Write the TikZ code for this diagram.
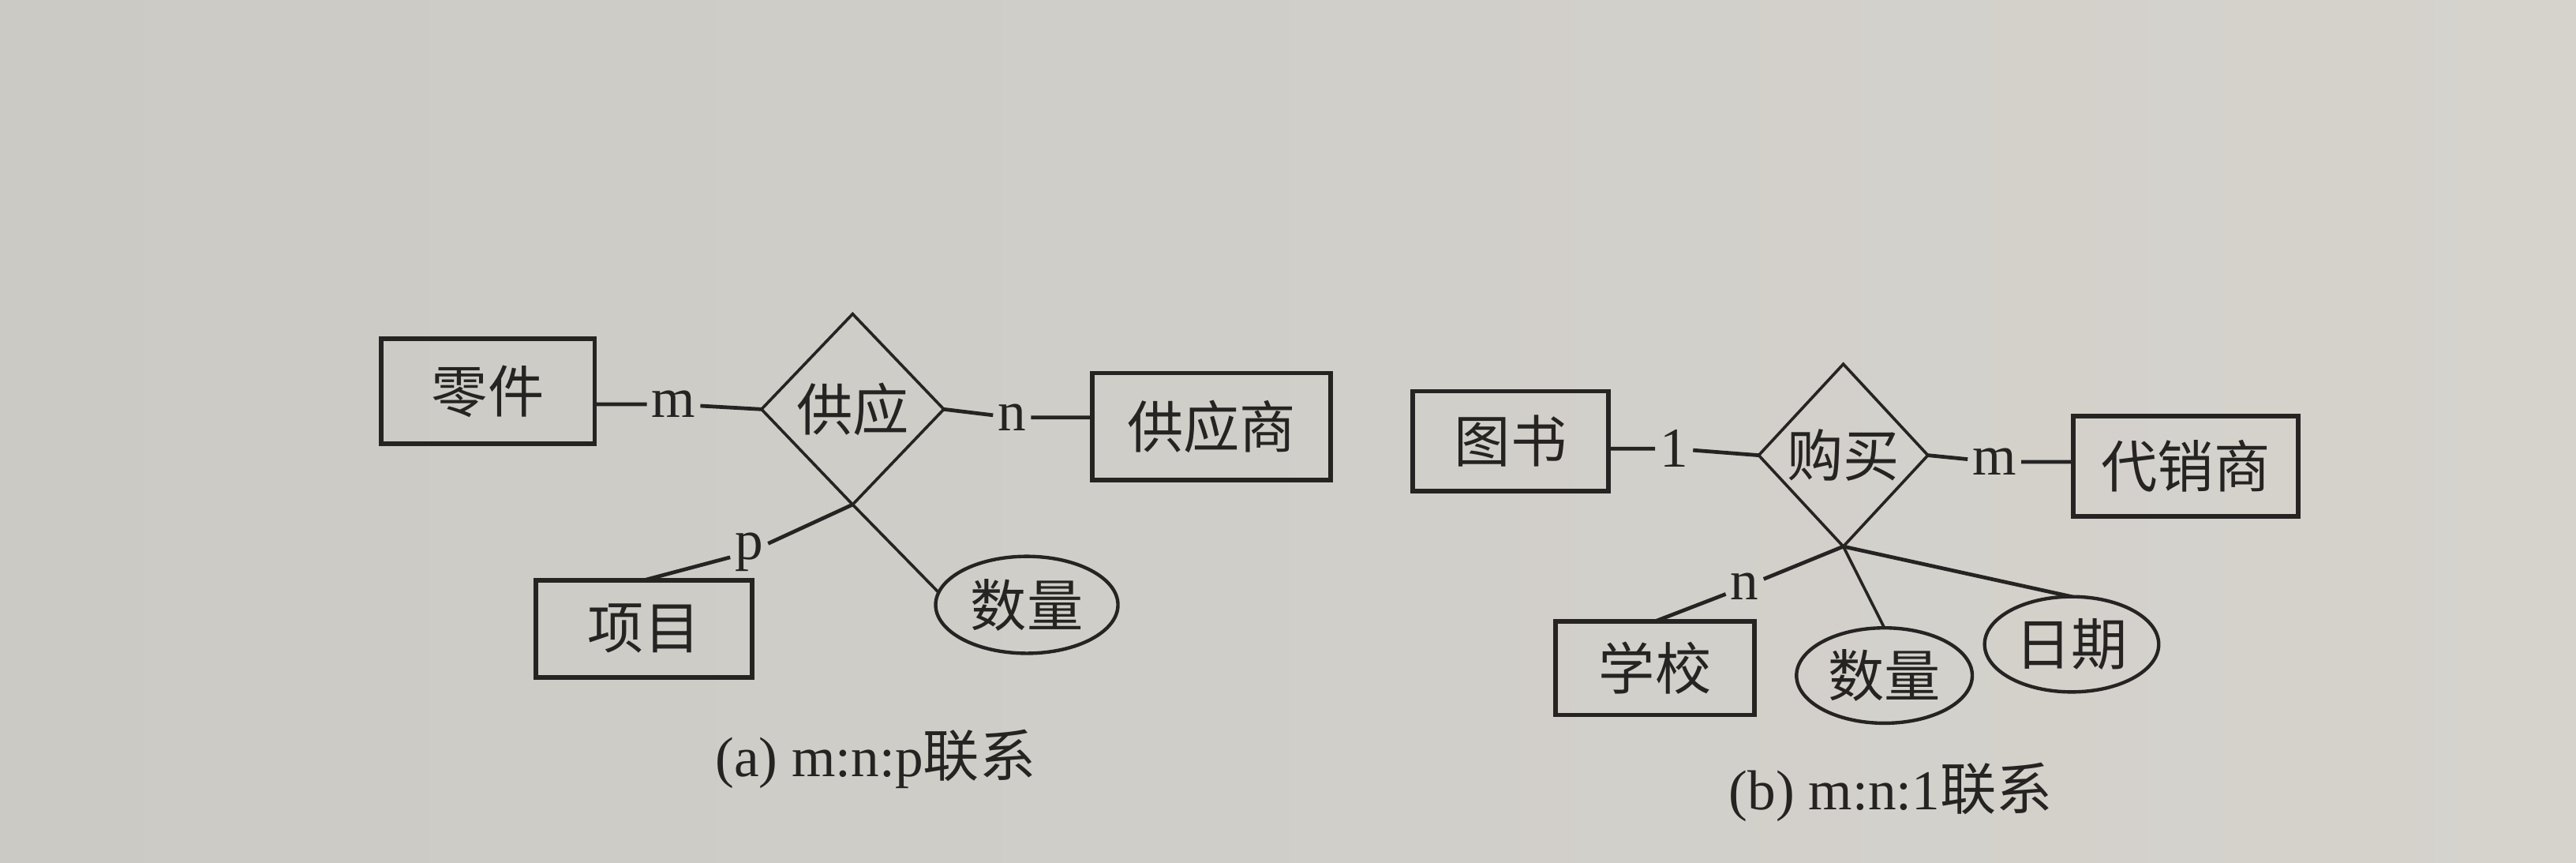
\documentclass[tikz,border=0pt]{standalone}
\usepackage{fontspec}
\setmainfont{Liberation Serif}
\newfontfamily\cjk{Noto Sans CJK SC}
\usetikzlibrary{shapes.geometric}

\definecolor{ink}{RGB}{38,36,34}
\definecolor{paperL}{RGB}{203,202,197}
\definecolor{paperM}{RGB}{225,223,218}
\definecolor{paperR}{RGB}{214,211,205}

\begin{document}
\begin{tikzpicture}[x=0.02cm, y=-0.02cm,
  every node/.style={font=\fontsize{19.5}{22}\selectfont, text=ink},
  entite/.style={draw=ink, line width=1.6pt, rectangle, inner sep=0pt, outer sep=0pt},
  relation/.style={draw=ink, line width=1pt, diamond, inner sep=0pt, outer sep=0pt},
  attribut/.style={draw=ink, line width=1.2pt, ellipse, inner sep=0pt, outer sep=0pt},
  card/.style={inner sep=1.5pt},
  lien/.style={draw=ink, line width=1.3pt},
  lienfin/.style={draw=ink, line width=1pt}]
%
% Page
\shade[left color=paperL, middle color=paperM, right color=paperR] (0,0) rectangle (1568,525);
%
% Figure (a)
\node[entite, minimum width=2.6cm, minimum height=1.28cm] (parts) at (297,238) {\cjk 零件};
\node[relation, minimum width=2.22cm, minimum height=2.32cm] (supply) at (519,249) {\cjk 供应};
\node[entite, minimum width=2.9cm, minimum height=1.3cm] (supplier) at (737.5,259.5) {\cjk 供应商};
\node[entite, minimum width=2.64cm, minimum height=1.18cm] (project) at (392,382.5) {\cjk 项目};
\node[attribut, minimum width=2.22cm, minimum height=1.18cm] (qtyA) at (625,368) {\cjk 数量};
\node[card] (cardm) at (410,246) {m};
\node[card] (cardn) at (616,254) {n};
\node[card] (cardp) at (456,336) {p};
%Segment 1
\draw[lien] (parts.east |- cardm) -- (cardm) -- (supply.west);
%Segment 2
\draw[lien] (supply.east) -- (cardn) -- (supplier.west |- cardn);
%Segment 3
\draw[lien] (supply.south) -- (cardp) -- (project.north);
%Segment 4
\draw[lienfin] (supply.south) -- (qtyA.172);
\node (capA) at (533,462) {(a) m:n:p{\cjk 联系}};
%
% Figure (b)
\node[entite, minimum width=2.38cm, minimum height=1.22cm] (book) at (919.5,268.5) {\cjk 图书};
\node[relation, minimum width=2.06cm, minimum height=2.22cm] (buy) at (1122,277) {\cjk 购买};
\node[entite, minimum width=2.74cm, minimum height=1.22cm] (dealer) at (1330.5,283.5) {\cjk 代销商};
\node[entite, minimum width=2.42cm, minimum height=1.14cm] (school) at (1007.5,406.5) {\cjk 学校};
\node[attribut, minimum width=2.14cm, minimum height=1.16cm] (qtyB) at (1147,411) {\cjk 数量};
\node[attribut, minimum width=2.12cm, minimum height=1.16cm] (date) at (1261,392) {\cjk 日期};
\node[card] (card1) at (1019,273) {1};
\node[card] (cardm2) at (1214,281) {m};
\node[card] (cardn2) at (1062,357) {n};
%Segment 5
\draw[lien] (book.east |- card1) -- (card1) -- (buy.west);
%Segment 6
\draw[lien] (buy.east) -- (cardm2) -- (dealer.west |- cardm2);
%Segment 7
\draw[lien] (buy.south) -- (cardn2) -- (school.north);
%Segment 8
\draw[lienfin] (buy.south) -- (qtyB.north);
%Segment 9
\draw[lien] (buy.south) -- (date.north);
\node (capB) at (1151,482) {(b) m:n:1{\cjk 联系}};
\end{tikzpicture}
\end{document}
